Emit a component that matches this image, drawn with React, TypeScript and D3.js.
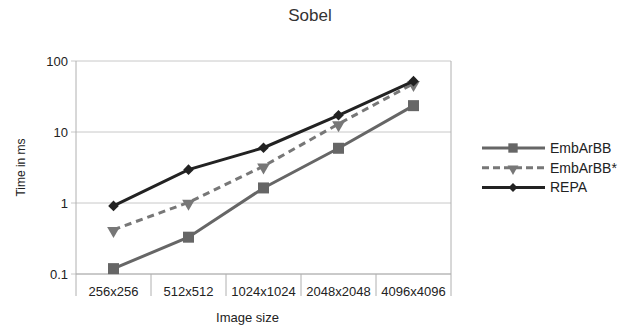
import React from "react";
import * as d3 from "d3";

const categories = ["256x256", "512x512", "1024x1024", "2048x2048", "4096x4096"];
const embArBB = [0.119, 0.33, 1.63, 5.9, 23.5];
const embArBBStar = [0.42, 1.02, 3.3, 13, 48];
const repa = [0.91, 2.95, 6.0, 17.2, 52];
const yTicks = [0.1, 1, 10, 100];
const seriesNames = ["EmbArBB", "EmbArBB*", "REPA"];

const W = 620, H = 327;
const m = { left: 76, right: 451, top: 61, bottom: 274 };

export default function App() {
  const x = d3.scaleBand<string>().domain(categories).range([m.left, m.right]);
  const y = d3.scaleLog().domain([0.1, 100]).range([m.bottom, m.top]);
  const line = d3
    .line<number>()
    .x((_, i) => x(categories[i])! + x.bandwidth() / 2)
    .y((d) => y(d));

  const series = [
    { name: seriesNames[0], data: embArBB, color: "#666666", dash: undefined as string | undefined, marker: "square" },
    { name: seriesNames[1], data: embArBBStar, color: "#777777", dash: "7,5", marker: "triangle" },
    { name: seriesNames[2], data: repa, color: "#222222", dash: undefined, marker: "diamond" },
  ];

  const marker = (type: string, cx: number, cy: number, color: string, key: string | number, scale = 1) => {
    if (type === "square") {
      const s = 11 * scale;
      return <rect key={key} x={cx - s / 2} y={cy - s / 2} width={s} height={s} fill={color} />;
    }
    if (type === "triangle") {
      const p = d3.symbol(d3.symbolTriangle, 70 * scale * scale)()!;
      return <path key={key} d={p} transform={`translate(${cx},${cy + 1}) rotate(180)`} fill={color} />;
    }
    const s = 7.5 * scale;
    return <rect key={key} x={-s / 2} y={-s / 2} width={s} height={s} transform={`translate(${cx},${cy}) rotate(45)`} fill={color} />;
  };

  const font = "'Liberation Sans', Arial, sans-serif";

  return (
    <svg width={W} height={H} style={{ position: "absolute", left: 0, top: 0 }} fontFamily={font}>
      <rect width={W} height={H} fill="#ffffff" />
      <text x={310} y={21} textAnchor="middle" fontSize={17} fill="#333">Sobel</text>
      {yTicks.map((t) => (
        <g key={t}>
          <line x1={m.left - 5} x2={m.right} y1={y(t)} y2={y(t)} stroke="#c8c8c8" strokeWidth={1} />
          <text x={m.left - 8} y={y(t) + 4.5} textAnchor="end" fontSize={13} fill="#222">{t}</text>
        </g>
      ))}
      <line x1={m.left} x2={m.left} y1={m.top} y2={m.bottom + 22} stroke="#b0b0b0" />
      <line x1={m.right} x2={m.right} y1={m.top} y2={m.bottom + 22} stroke="#b0b0b0" />
      <line x1={m.left} x2={m.right} y1={m.bottom} y2={m.bottom} stroke="#b0b0b0" />
      {categories.slice(1).map((c) => (
        <line key={c} x1={x(c)!} x2={x(c)!} y1={m.bottom} y2={m.bottom + 22} stroke="#b0b0b0" />
      ))}
      {categories.map((c) => (
        <text key={c} x={x(c)! + x.bandwidth() / 2} y={296} textAnchor="middle" fontSize={13} fill="#222">{c}</text>
      ))}
      <text x={247.5} y={322} textAnchor="middle" fontSize={13} fill="#222">Image size</text>
      <text transform={`translate(25,${(m.top + m.bottom) / 2}) rotate(-90)`} textAnchor="middle" fontSize={12} fill="#222">Time in ms</text>
      {series.map((s) => (
        <g key={s.name}>
          <path d={line(s.data)!} fill="none" stroke={s.color} strokeWidth={3} strokeDasharray={s.dash} />
          {s.data.map((v, i) => marker(s.marker, x(categories[i])! + x.bandwidth() / 2, y(v), s.color, i))}
        </g>
      ))}
      {series.map((s, i) => {
        const ly = 148 + i * 19.7;
        return (
          <g key={s.name}>
            <line x1={482} x2={545} y1={ly} y2={ly} stroke={s.color} strokeWidth={3} strokeDasharray={s.dash ? "7,4" : undefined} />
            {marker(s.marker, 513, ly, s.color, "m", 0.85)}
            <text x={550} y={ly + 5} fontSize={14} fill="#222">{s.name}</text>
          </g>
        );
      })}
    </svg>
  );
}
